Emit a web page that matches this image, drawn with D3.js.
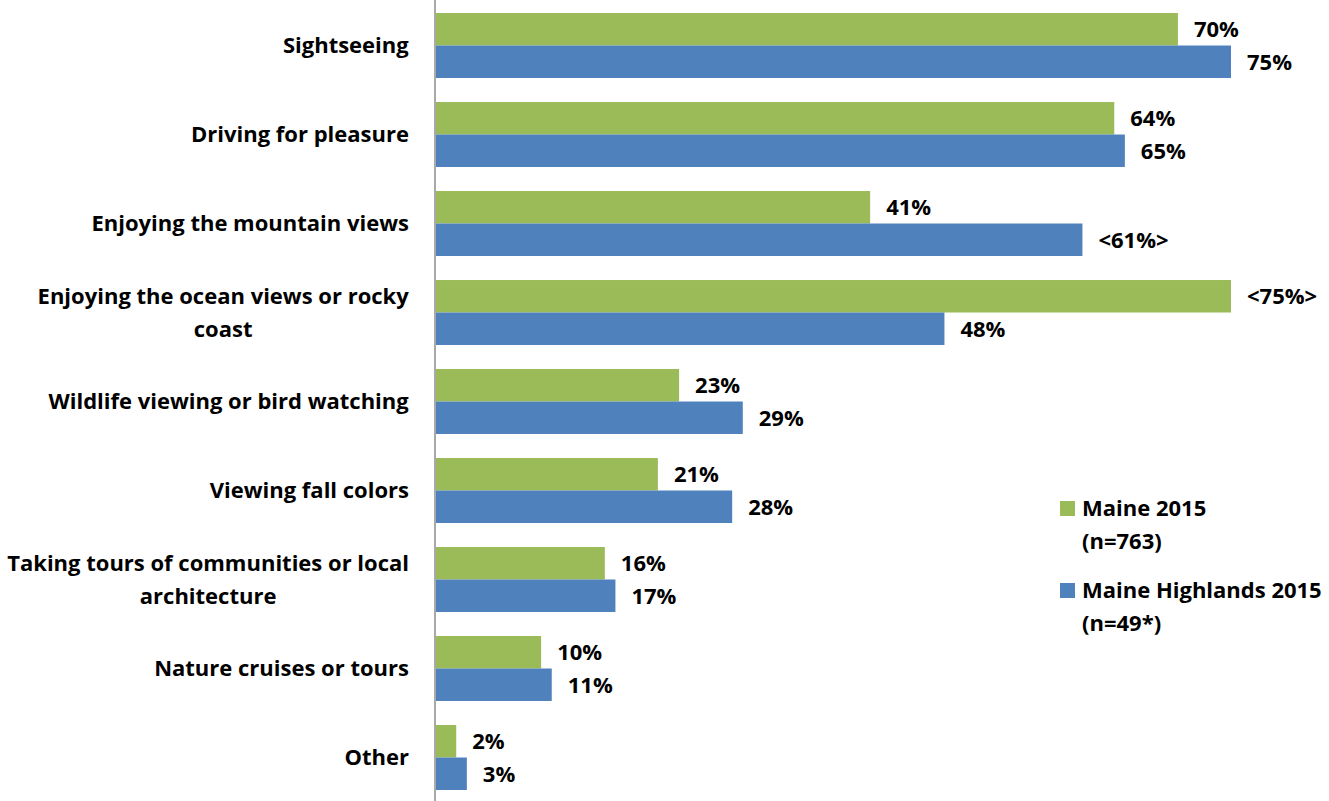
<!DOCTYPE html>
<html>
<head>
<meta charset="utf-8">
<script src="https://cdn.jsdelivr.net/npm/d3@7"></script>
<style>
  html, body { margin: 0; padding: 0; background: #fff; }
  svg { display: block; }
  text { font-family: "Open Sans", Lato, sans-serif; font-weight: bold; fill: #000; }
</style>
</head>
<body>
<svg id="chart" width="1329" height="801"></svg>
<script>
// Activities during the trip, share of visitors (%)
const categories = [
  "Sightseeing",
  "Driving for pleasure",
  "Enjoying the mountain views",
  "Enjoying the ocean views or rocky coast",
  "Wildlife viewing or bird watching",
  "Viewing fall colors",
  "Taking tours of communities or local architecture",
  "Nature cruises or tours",
  "Other"
];
// Category labels as wrapped on two lines where needed
const categoryLines = [
  ["Sightseeing"],
  ["Driving for pleasure"],
  ["Enjoying the mountain views"],
  ["Enjoying the ocean views or rocky", "coast"],
  ["Wildlife viewing or bird watching"],
  ["Viewing fall colors"],
  ["Taking tours of communities or local", "architecture"],
  ["Nature cruises or tours"],
  ["Other"]
];
const maine2015 = [70, 64, 41, 75, 23, 21, 16, 10, 2];
const highlands2015 = [75, 65, 61, 48, 29, 28, 17, 11, 3];
// Values flagged as significantly different are wrapped in < >
const maineFlags = [false, false, false, true, false, false, false, false, false];
const highlandsFlags = [false, false, true, false, false, false, false, false, false];

const seriesNames = ["Maine 2015", "Maine Highlands 2015"];
const seriesSamples = ["(n=763)", "(n=49*)"];
const seriesColors = ["#9BBB59", "#4F81BD"];

const svg = d3.select("#chart");
const axisX = 435;
const fontSize = 22;

const x = d3.scaleLinear().domain([0, 75]).range([axisX, 1231]);
const y = d3.scaleBand().domain(categories).range([1, 802])
  .paddingInner(0.27).paddingOuter(0.135);
const sub = d3.scaleBand().domain([0, 1]).range([0, y.bandwidth()]);

const series = [
  { values: maine2015, flags: maineFlags },
  { values: highlands2015, flags: highlandsFlags }
];

const groups = svg.append("g").selectAll("g")
  .data(categories)
  .join("g")
  .attr("transform", d => `translate(0,${y(d)})`);

series.forEach((s, si) => {
  groups.append("rect")
    .attr("x", x(0) + 1)
    .attr("y", sub(si))
    .attr("width", (d, i) => x(s.values[i]) - x(0) - 1)
    .attr("height", sub.bandwidth())
    .attr("fill", seriesColors[si]);

  groups.append("text")
    .attr("x", (d, i) => x(s.values[i]) + 16)
    .attr("y", sub(si) + sub.bandwidth() / 2)
    .attr("dy", "0.36em")
    .attr("font-size", fontSize)
    .text((d, i) => s.flags[i] ? `<${s.values[i]}%>` : `${s.values[i]}%`);
});

// Category axis line
svg.append("line")
  .attr("x1", axisX).attr("x2", axisX)
  .attr("y1", 0).attr("y2", 801)
  .attr("stroke", "#8c8c8c").attr("stroke-width", 1.5);

// Category labels: each block of lines is centred, and the widest line ends at x = 409
groups.each(function(d, i) {
  const lines = categoryLines[i];
  const cy = y.bandwidth() / 2;
  const lh = 33;
  const t = d3.select(this).append("text")
    .attr("text-anchor", "middle")
    .attr("font-size", fontSize);
  lines.forEach((ln, li) => {
    t.append("tspan")
      .attr("x", 0)
      .attr("y", cy + (li - (lines.length - 1) / 2) * lh)
      .attr("dy", "0.36em")
      .text(ln);
  });
  const w = t.node().getBBox().width;
  t.attr("transform", `translate(${409 - w / 2},0)`);
});

// Legend
const legend = svg.append("g");
const legendY = [508, 590];
seriesNames.forEach((name, i) => {
  legend.append("rect")
    .attr("x", 1060).attr("y", legendY[i] - 7)
    .attr("width", 15).attr("height", 15)
    .attr("fill", seriesColors[i]);
  legend.append("text")
    .attr("x", 1082).attr("y", legendY[i]).attr("dy", "0.36em")
    .attr("font-size", fontSize).text(name);
  legend.append("text")
    .attr("x", 1082).attr("y", legendY[i] + 33).attr("dy", "0.36em")
    .attr("font-size", fontSize).text(seriesSamples[i]);
});
</script>
</body>
</html>
